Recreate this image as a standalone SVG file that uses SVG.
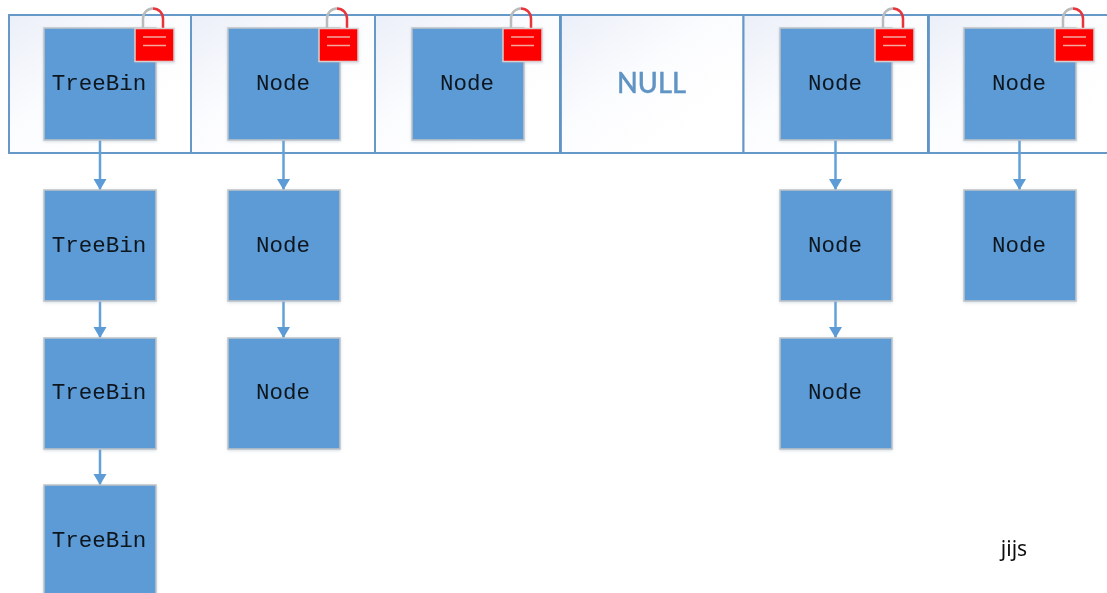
<svg xmlns="http://www.w3.org/2000/svg" width="1107" height="593" viewBox="0 0 1107 593">
<style>
.cell{fill:url(#cellGrad);stroke:#6699c8;stroke-width:2}
.box{fill:#5b9bd5;stroke:#c0c4c8;stroke-width:1.5;filter:url(#soft)}
.lbl{font-family:"Liberation Mono",monospace;font-size:22.5px;fill:#0e161e;text-anchor:middle}
.lockbody{fill:#ff0000;stroke:#d8d0d0;stroke-width:1.5;filter:url(#soft)}
.bar{stroke:#f3a8a0;stroke-width:1.5;fill:none}
.sl{fill:none;stroke:#b9bcbc;stroke-width:2.5}
.sr{fill:none;stroke:#e8343a;stroke-width:2.5}
.conn{stroke:#64a1d9;stroke-width:2.5;fill:none;marker-end:url(#arrow)}
</style>
<defs>
<linearGradient id="cellGrad" x1="0" y1="0" x2="0.75" y2="0.8">
<stop offset="0" stop-color="#ebeff8"/><stop offset="0.55" stop-color="#fbfcfe"/><stop offset="1" stop-color="#ffffff"/>
</linearGradient>
<filter id="soft" x="-10%" y="-10%" width="120%" height="120%">
<feDropShadow dx="0" dy="1" stdDeviation="1.5" flood-color="#8aa0b5" flood-opacity="0.35"/>
</filter>
<filter id="blur" filterUnits="userSpaceOnUse" x="0" y="0" width="1107" height="593">
<feGaussianBlur stdDeviation="0.45"/>
</filter>
<marker id="arrow" markerUnits="userSpaceOnUse" markerWidth="12" markerHeight="14" refX="11" refY="7" orient="auto">
<path d="M0,0.500 L11,7 L0,13.500 Z" fill="#5b9bd5"/>
</marker>
<g id="lock">
<path class="sl" d="M0,20 V10 A10,10 0 0 1 10,0"/>
<path class="sr" d="M10,0 A10,10 0 0 1 20,10 V20"/>
<rect class="lockbody" x="-8" y="20" width="39" height="33"/>
<path class="bar" d="M0,28.500 H23 M0,37 H23"/>
</g>
</defs>
<rect width="1107" height="593" fill="#ffffff"/>
<g id="scene" filter="url(#blur)">
<g id="bucket-array">
<rect id="cell-1" class="cell" x="9" y="15" width="182" height="138"/>
<rect id="cell-2" class="cell" x="191" y="15" width="184" height="138"/>
<rect id="cell-3" class="cell" x="375" y="15" width="185" height="138"/>
<rect id="cell-4" class="cell" x="560.500" y="15" width="183" height="138"/>
<rect id="cell-5" class="cell" x="743.500" y="15" width="184.500" height="138"/>
<rect id="cell-6" class="cell" x="928.500" y="15" width="190" height="138"/>
<path d="M560.500,15 V153 M928.500,15 V153" stroke="#5f94c4" stroke-width="2.500" fill="none"/>
</g>
<g id="null-cell"><text x="651.500" y="93" font-family="Lato,'Open Sans',sans-serif" font-size="28" font-weight="500" fill="#5f94c4" stroke="#5f94c4" stroke-width="0.4" text-anchor="middle" textLength="69" lengthAdjust="spacingAndGlyphs">NULL</text></g>
<g id="connectors">
<path class="conn" d="M100,140 V190"/>
<path class="conn" d="M100,301 V338"/>
<path class="conn" d="M100,449 V485"/>
<path class="conn" d="M283.500,140 V190"/>
<path class="conn" d="M283.500,301 V338"/>
<path class="conn" d="M835.500,140 V190"/>
<path class="conn" d="M835.500,301 V338"/>
<path class="conn" d="M1019.500,140 V190"/>
</g>
<g id="n1"><rect class="box" x="44" y="28" width="112" height="112"/><text class="lbl" x="99" y="89.500">TreeBin</text></g>
<g id="n2"><rect class="box" x="44" y="190" width="112" height="111"/><text class="lbl" x="99" y="251.500">TreeBin</text></g>
<g id="n3"><rect class="box" x="44" y="338" width="112" height="111"/><text class="lbl" x="99" y="398.500">TreeBin</text></g>
<g id="n4"><rect class="box" x="44" y="485" width="112" height="118"/><text class="lbl" x="99" y="546.500">TreeBin</text></g>
<g id="n5"><rect class="box" x="228" y="28" width="112" height="112"/><text class="lbl" x="283" y="89.500">Node</text></g>
<g id="n6"><rect class="box" x="228" y="190" width="112" height="111"/><text class="lbl" x="283" y="251.500">Node</text></g>
<g id="n7"><rect class="box" x="228" y="338" width="112" height="111"/><text class="lbl" x="283" y="398.500">Node</text></g>
<g id="n8"><rect class="box" x="412" y="28" width="112" height="112"/><text class="lbl" x="467" y="89.500">Node</text></g>
<g id="n9"><rect class="box" x="780" y="28" width="112" height="112"/><text class="lbl" x="835" y="89.500">Node</text></g>
<g id="n10"><rect class="box" x="780" y="190" width="112" height="111"/><text class="lbl" x="835" y="251.500">Node</text></g>
<g id="n11"><rect class="box" x="780" y="338" width="112" height="111"/><text class="lbl" x="835" y="398.500">Node</text></g>
<g id="n12"><rect class="box" x="964" y="28" width="112" height="112"/><text class="lbl" x="1019" y="89.500">Node</text></g>
<g id="n13"><rect class="box" x="964" y="190" width="112" height="111"/><text class="lbl" x="1019" y="251.500">Node</text></g>
<g id="locks">
<use href="#lock" x="143" y="8.500"/>
<use href="#lock" x="327" y="8.500"/>
<use href="#lock" x="511" y="8.500"/>
<use href="#lock" x="883" y="8.500"/>
<use href="#lock" x="1063" y="8.500"/>
</g>
<g id="watermark"><text x="1014" y="556" font-family="'Noto Sans',sans-serif" font-size="21" fill="#111111" text-anchor="middle">jijs</text></g>
</g>
</svg>
